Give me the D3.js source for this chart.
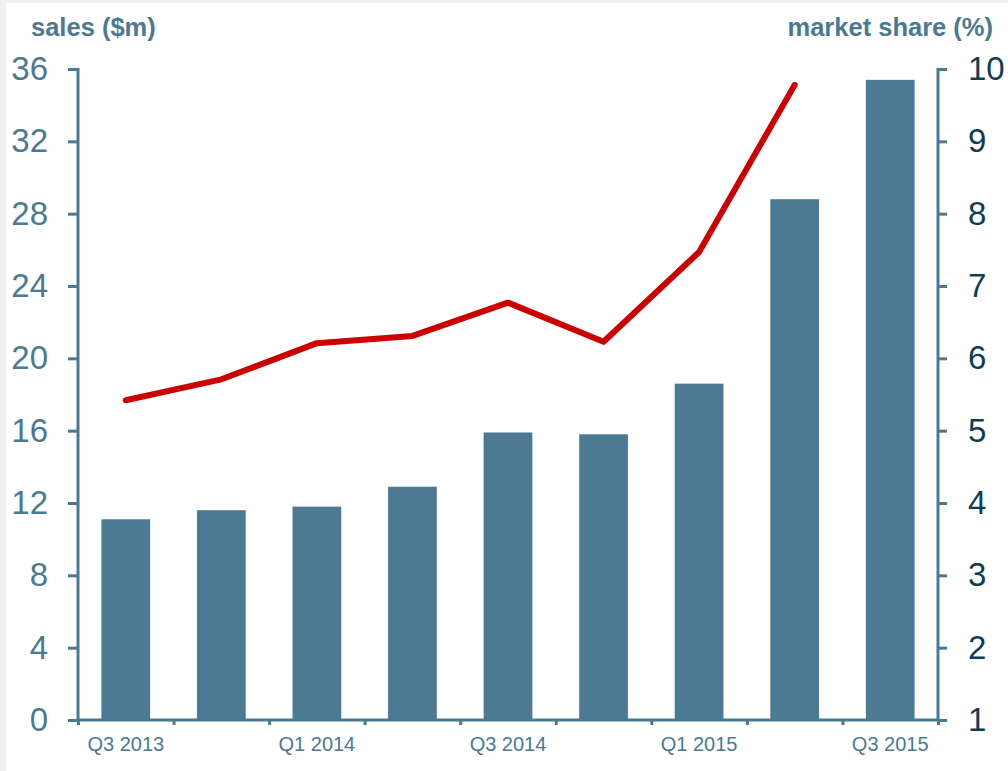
<!DOCTYPE html>
<html>
<head>
<meta charset="utf-8">
<script src="https://cdn.jsdelivr.net/npm/d3@7"></script>
<style>
  html, body { margin: 0; padding: 0; background: #f0f0f0; }
  svg { display: block; }
  text { font-family: "Liberation Sans", Arial, sans-serif; }
</style>
</head>
<body>
<svg id="chart" width="1008" height="771"></svg>
<script>
// quarters on the x axis, labels only every second one
var quarters = ["Q3 2013", "Q4 2013", "Q1 2014", "Q2 2014", "Q3 2014", "Q4 2014", "Q1 2015", "Q2 2015", "Q3 2015"];
var quarterLabels = ["Q3 2013", "Q1 2014", "Q3 2014", "Q1 2015", "Q3 2015"];
// sales ($m), bars, left axis
var sales = [11.1, 11.6, 11.8, 12.9, 15.9, 15.8, 18.6, 28.8, 35.4];
// market share (%), line, right axis (no value yet for last quarter)
var share = [5.42, 5.71, 6.21, 6.31, 6.77, 6.23, 7.47, 9.78, null];
var salesTicks = [0, 4, 8, 12, 16, 20, 24, 28, 32, 36];
var shareTicks = [1, 2, 3, 4, 5, 6, 7, 8, 9, 10];

var axisCol = "#4a7a93";
var svg = d3.select("#chart");

svg.append("rect").attr("x", 6).attr("y", 3).attr("width", 1002).attr("height", 768).attr("fill", "#fff");

var x = d3.scaleBand().domain(quarters).range([78, 938]).paddingInner(0.49).paddingOuter(0.245);
var yL = d3.scaleLinear().domain([0, 36]).range([720, 69]);
var yR = d3.scaleLinear().domain([1, 10]).range([720, 69]);

// bars
svg.append("g").selectAll("rect")
  .data(sales)
  .join("rect")
  .attr("x", function(d, i) { return x(quarters[i]); })
  .attr("y", function(d) { return yL(d); })
  .attr("width", x.bandwidth())
  .attr("height", function(d) { return yL(0) - yL(d); })
  .attr("fill", "#4b7a92");

// market share line
var line = d3.line()
  .defined(function(d) { return d != null; })
  .x(function(d, i) { return x(quarters[i]) + x.bandwidth() / 2; })
  .y(function(d) { return yR(d); });
svg.append("path")
  .datum(share)
  .attr("d", line)
  .attr("fill", "none")
  .attr("stroke", "#cc0000")
  .attr("stroke-width", 6)
  .attr("stroke-linecap", "round")
  .attr("stroke-linejoin", "round");

// left axis
var gL = svg.append("g").attr("transform", "translate(78,0)")
  .call(d3.axisLeft(yL).tickValues(salesTicks).tickSize(10).tickPadding(20));
// right axis
var gR = svg.append("g").attr("transform", "translate(938,0)")
  .call(d3.axisRight(yR).tickValues(shareTicks).tickSize(9).tickPadding(21));
// bottom axis, ticks on the category boundaries
var bounds = d3.range(quarters.length + 1).map(function(i) { return 78 + i * (860 / quarters.length); });
var xb = d3.scaleLinear().domain([78, 938]).range([78, 938]);
var gB = svg.append("g").attr("transform", "translate(0,720)")
  .call(d3.axisBottom(xb).tickValues(bounds).tickSize(5).tickFormat(""));

[gL, gR, gB].forEach(function(g) {
  g.select(".domain").attr("stroke", axisCol).attr("stroke-width", 3);
  g.selectAll(".tick line").attr("stroke", axisCol).attr("stroke-width", 3);
});
gL.select(".domain").attr("d", "M-10,69.5H0V720");
gL.selectAll(".tick text").attr("fill", axisCol).attr("font-size", 33).attr("font-family", "Liberation Sans, Arial, sans-serif");
gR.select(".domain").attr("d", "M9,69.5H0V720");
gR.selectAll(".tick text").attr("fill", "#0f3d55").attr("font-size", 33).attr("font-family", "Liberation Sans, Arial, sans-serif");
gB.select(".domain").attr("d", "M78,0H938");

// quarter labels
svg.append("g").selectAll("text")
  .data(quarterLabels)
  .join("text")
  .attr("x", function(d) { return x(d) + x.bandwidth() / 2; })
  .attr("y", 751)
  .attr("text-anchor", "middle")
  .attr("font-size", 20)
  .attr("fill", axisCol)
  .text(function(d) { return d; });

// axis titles
svg.append("text").attr("x", 31).attr("y", 36).attr("font-size", 25.5).attr("font-weight", "bold")
  .attr("fill", axisCol).text("sales ($m)");
svg.append("text").attr("x", 993).attr("y", 36).attr("font-size", 25.5).attr("font-weight", "bold")
  .attr("text-anchor", "end").attr("fill", axisCol).text("market share (%)");
</script>
</body>
</html>
